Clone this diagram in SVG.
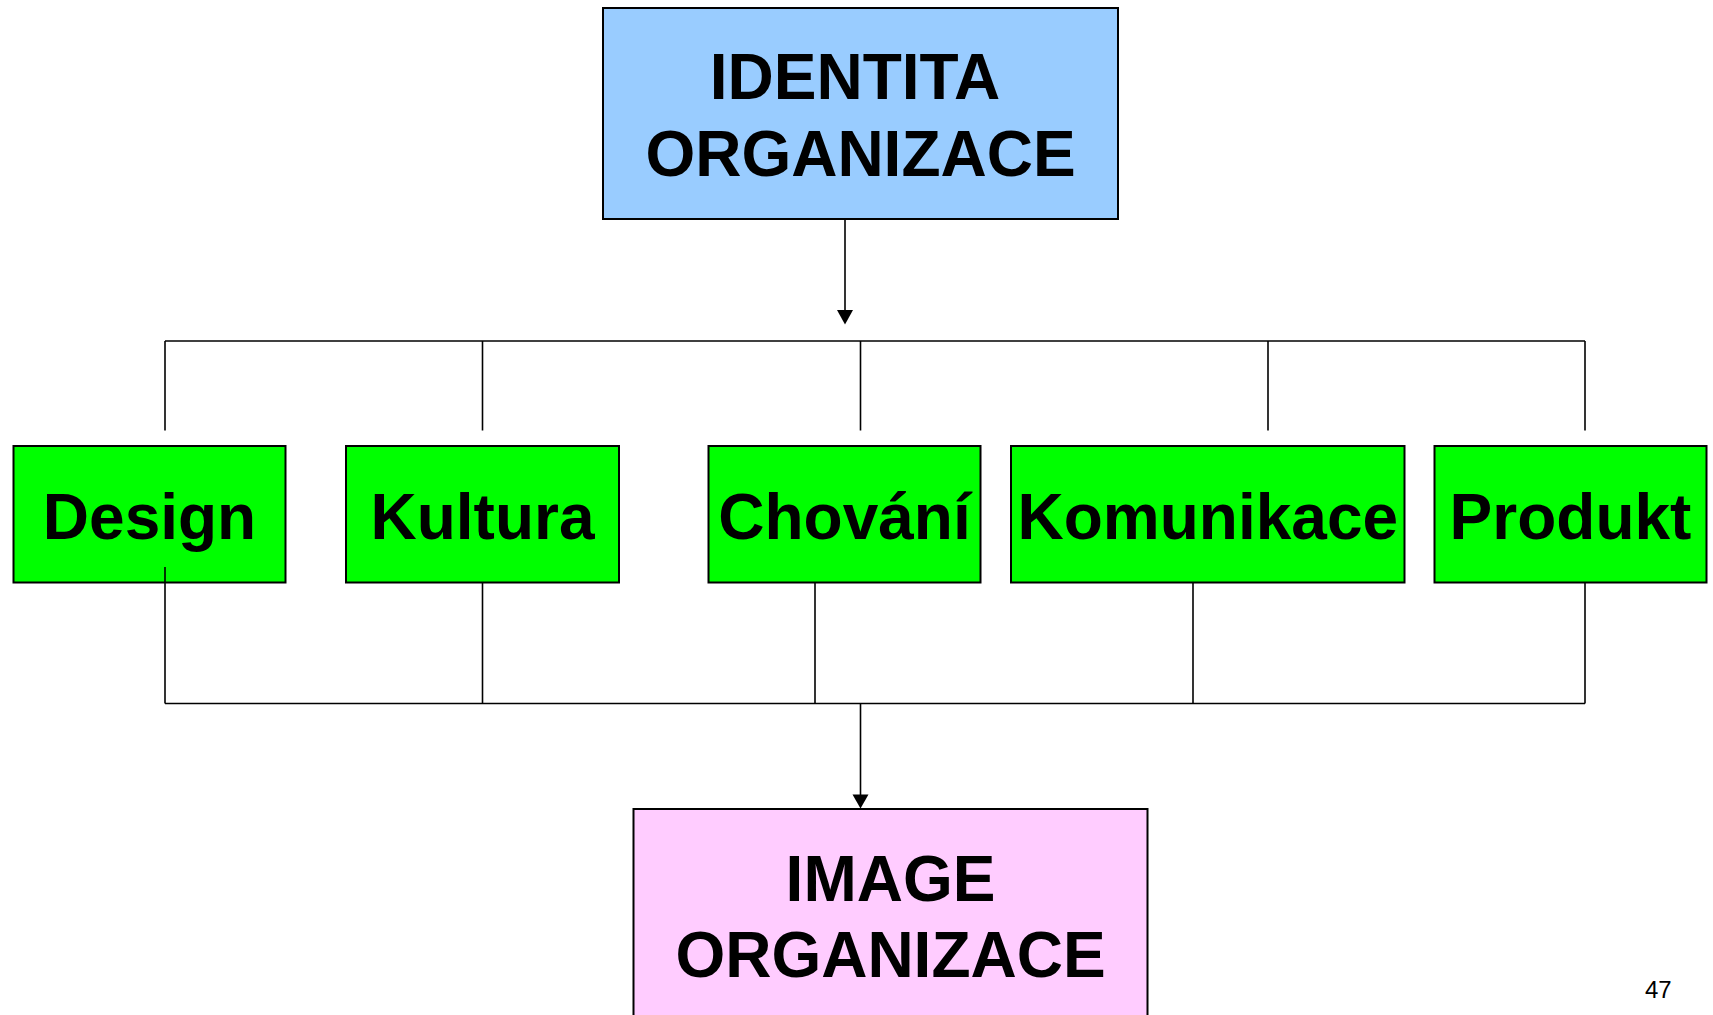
<svg xmlns="http://www.w3.org/2000/svg" width="1713" height="1015" viewBox="0 0 1713 1015">
<style>
.box{stroke:#000;stroke-width:2}
.blue{fill:#99CCFF}
.green{fill:#00FF00}
.pink{fill:#FFCCFF}
.t{font-family:"Liberation Sans",Arial,sans-serif;font-weight:bold;font-size:64px;fill:#000;text-anchor:middle}
.ln{stroke:#000;stroke-width:1.6;fill:none}
.pg{font-family:"Liberation Sans",Arial,sans-serif;font-size:24px;fill:#000}
</style>
<defs>
<marker id="arr" markerUnits="userSpaceOnUse" markerWidth="16" markerHeight="15" refX="8" refY="14" orient="auto-start-reverse" viewBox="0 0 16 15">
<path d="M0,0 L16,0 L8,14 Z" fill="#000"/>
</marker>
</defs>
<g id="connectors">
<line class="ln" x1="845" y1="220" x2="845" y2="310"/>
<path d="M837,310 L853,310 L845,324.5 Z" fill="#000"/>
<line class="ln" x1="165" y1="341" x2="1585" y2="341"/>
<line class="ln" x1="165" y1="341" x2="165" y2="430.5"/>
<line class="ln" x1="482.5" y1="341" x2="482.5" y2="430.5"/>
<line class="ln" x1="860.5" y1="341" x2="860.5" y2="430.5"/>
<line class="ln" x1="1268" y1="341" x2="1268" y2="430.5"/>
<line class="ln" x1="1585" y1="341" x2="1585" y2="430.5"/>
<line class="ln" x1="165" y1="703.5" x2="1585" y2="703.5"/>
<line class="ln" x1="482.5" y1="582.5" x2="482.5" y2="703.5"/>
<line class="ln" x1="815" y1="582.5" x2="815" y2="703.5"/>
<line class="ln" x1="1193" y1="582.5" x2="1193" y2="703.5"/>
<line class="ln" x1="1585" y1="582.5" x2="1585" y2="703.5"/>
<line class="ln" x1="860.5" y1="703.5" x2="860.5" y2="795"/>
<path d="M852.5,794.5 L868.5,794.5 L860.5,808.5 Z" fill="#000"/>
</g>
<g id="identita">
<rect class="box blue" x="603" y="8" width="515" height="211"/>
<text class="t" x="855" y="99">IDENTITA</text>
<text class="t" x="860.5" y="176">ORGANIZACE</text>
</g>
<g id="design">
<rect class="box green" x="13.5" y="446" width="272" height="136.5"/>
<text class="t" x="149.5" y="539">Design</text>
</g>
<line id="design-inner" class="ln" x1="165" y1="567" x2="165" y2="703.5"/>
<g id="kultura">
<rect class="box green" x="346" y="446" width="273" height="136.5"/>
<text class="t" x="482.5" y="539">Kultura</text>
</g>
<g id="chovani">
<rect class="box green" x="708.5" y="446" width="272" height="136.5"/>
<text class="t" x="844.5" y="539">Chování</text>
</g>
<g id="komunikace">
<rect class="box green" x="1011" y="446" width="393.5" height="136.5"/>
<text class="t" x="1207.8" y="539">Komunikace</text>
</g>
<g id="produkt">
<rect class="box green" x="1434.5" y="446" width="272" height="136.5"/>
<text class="t" x="1570.5" y="539">Produkt</text>
</g>
<g id="image">
<rect class="box pink" x="633.5" y="809" width="514" height="230"/>
<text class="t" x="890.5" y="900.5">IMAGE</text>
<text class="t" x="890.5" y="977">ORGANIZACE</text>
</g>
<text class="pg" x="1645" y="998">47</text>
</svg>
